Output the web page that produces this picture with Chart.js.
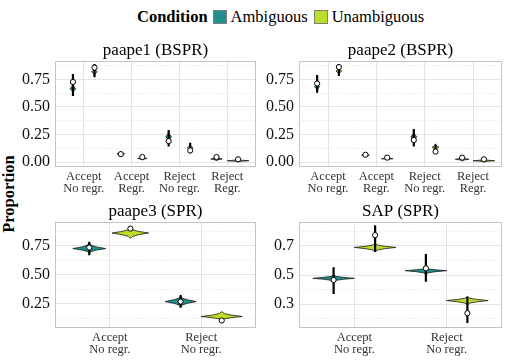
<!DOCTYPE html>
<html>
<head>
<meta charset="utf-8">
<script src="https://cdn.jsdelivr.net/npm/chart.js@4.4.0/dist/chart.umd.min.js"></script>
<style>
  html, body { margin: 0; padding: 0; background: #fff; }
  #wrap { position: relative; width: 510px; height: 360px; overflow: hidden;
          font-family: "Liberation Serif", "DejaVu Serif", serif; color: #000; }
  .panel { position: absolute; }
  #legend { position: absolute; left: 137px; top: 6px; height: 21px; display: flex;
            align-items: center; font-size: 16.5px; white-space: nowrap; }
  #legend b { margin-right: 5px; }
  #legend .key { width: 12px; height: 12px; border: 1px solid #7f7f7f; margin-right: 4px; }
  #legend .lab { margin-right: 6px; }
  #ylab { position: absolute; left: 9px; top: 194px; transform: translate(-50%, -50%) rotate(-90deg);
          font-weight: bold; font-size: 16.5px; white-space: nowrap; }
</style>
</head>
<body>
<div id="wrap">
  <div id="legend">
    <b>Condition</b>
    <span class="key" style="background:#21908C"></span><span class="lab">Ambiguous</span>
    <span class="key" style="background:#BBDF27"></span><span class="lab">Unambiguous</span>
  </div>
  <div id="ylab">Proportion</div>
  <canvas class="panel" id="p1" width="256" height="162" style="left:5px;top:37px"></canvas>
  <canvas class="panel" id="p2" width="258" height="162" style="left:249px;top:37px"></canvas>
  <canvas class="panel" id="p3" width="256" height="162" style="left:5px;top:198px"></canvas>
  <canvas class="panel" id="p4" width="258" height="162" style="left:249px;top:198px"></canvas>
</div>
<script>
// ─── Data ────────────────────────────────────────────────────────────────────

const GROUPS = ['Ambiguous', 'Unambiguous'];
const TOP_CATS = [['Accept', 'No regr.'], ['Accept', 'Regr.'], ['Reject', 'No regr.'], ['Reject', 'Regr.']];
const BOT_CATS = [['Accept', 'No regr.'], ['Reject', 'No regr.']];

const TOP_TICKS  = [0, 0.25, 0.5, 0.75];
const TOP_LABELS = ['0.00', '0.25', '0.50', '0.75'];
const TOP_MINOR  = [0.125, 0.375, 0.625, 0.875];
const P3_TICKS   = [0.25, 0.5, 0.75];
const P3_LABELS  = ['0.25', '0.50', '0.75'];
const P3_MINOR   = [0.125, 0.375, 0.625, 0.875];
const P4_TICKS   = [0.3, 0.5, 0.7];
const P4_LABELS  = ['0.3', '0.5', '0.7'];
const P4_MINOR   = [0.2, 0.4, 0.6, 0.8];

// violin: [low tip, peak, high tip]; width: max half-width (category units)
// mean + ci: white point with black range
const P1_AMB_VIOLIN = [[0.62, 0.665, 0.72], [0.055, 0.075, 0.095], [0.17, 0.23, 0.285], [0.01, 0.028, 0.05]];
const P1_AMB_WIDTH  = [0.06, 0.08, 0.06, 0.12];
const P1_AMB_MEAN   = [0.727, 0.072, 0.19, 0.045];
const P1_AMB_CI     = [[0.60, 0.80], [0.06, 0.09], [0.14, 0.29], [0.035, 0.06]];
const P1_UNA_VIOLIN = [[0.78, 0.82, 0.85], [0.02, 0.032, 0.045], [0.09, 0.13, 0.165], [0.0, 0.012, 0.025]];
const P1_UNA_WIDTH  = [0.06, 0.10, 0.06, 0.225];
const P1_UNA_MEAN   = [0.857, 0.045, 0.105, 0.025];
const P1_UNA_CI     = [[0.77, 0.89], [0.035, 0.055], [0.08, 0.175], [0.02, 0.03]];

const P2_AMB_VIOLIN = [[0.63, 0.685, 0.73], [0.045, 0.062, 0.08], [0.16, 0.23, 0.29], [0.01, 0.025, 0.045]];
const P2_AMB_WIDTH  = [0.05, 0.08, 0.06, 0.14];
const P2_AMB_MEAN   = [0.713, 0.066, 0.2, 0.04];
const P2_AMB_CI     = [[0.63, 0.79], [0.05, 0.085], [0.14, 0.30], [0.03, 0.05]];
const P2_UNA_VIOLIN = [[0.79, 0.825, 0.855], [0.02, 0.03, 0.042], [0.10, 0.135, 0.165], [0.0, 0.012, 0.025]];
const P2_UNA_WIDTH  = [0.06, 0.12, 0.07, 0.225];
const P2_UNA_MEAN   = [0.862, 0.04, 0.095, 0.025];
const P2_UNA_CI     = [[0.78, 0.89], [0.03, 0.05], [0.08, 0.16], [0.02, 0.03]];

const P3_AMB_VIOLIN = [[0.685, 0.727, 0.775], [0.222, 0.27, 0.319]];
const P3_AMB_WIDTH  = [0.18, 0.17];
const P3_AMB_MEAN   = [0.736, 0.27];
const P3_AMB_CI     = [[0.67, 0.785], [0.216, 0.327]];
const P3_UNA_VIOLIN = [[0.813, 0.861, 0.907], [0.107, 0.141, 0.184]];
const P3_UNA_WIDTH  = [0.20, 0.225];
const P3_UNA_MEAN   = [0.899, 0.107];
const P3_UNA_CI     = [[0.885, 0.91], [0.10, 0.115]];

const P4_AMB_VIOLIN = [[0.454, 0.477, 0.50], [0.505, 0.53, 0.55]];
const P4_AMB_WIDTH  = [0.225, 0.225];
const P4_AMB_MEAN   = [0.466, 0.546];
const P4_AMB_CI     = [[0.37, 0.553], [0.454, 0.644]];
const P4_UNA_VIOLIN = [[0.66, 0.69, 0.717], [0.295, 0.324, 0.351]];
const P4_UNA_WIDTH  = [0.225, 0.225];
const P4_UNA_MEAN   = [0.774, 0.237];
const P4_UNA_CI     = [[0.66, 0.842], [0.169, 0.351]];

// violin outline profile: relative height -> relative half-width
const SHAPE_T = [-1, -0.6, -0.3, 0, 0.3, 0.6, 1];
const SHAPE_W = [0, 0.12, 0.45, 1, 0.45, 0.12, 0];

// ─── Style ───────────────────────────────────────────────────────────────────

const FONT  = "'Liberation Serif', 'DejaVu Serif', serif";
const COLORS = ['#21908C', '#BBDF27'];
const GRID  = '#e3e3e3';
const FRAME = '#c4c4c4';
const DODGE = 0.225;

// ─── Helpers ─────────────────────────────────────────────────────────────────

function violinOutline(xc, v, w) {
  const right = SHAPE_T.map((t, k) => ({
    x: xc + w * SHAPE_W[k],
    y: t < 0 ? v[1] + t * (v[1] - v[0]) : v[1] + t * (v[2] - v[1])
  }));
  const left = right.slice().reverse().map(p => ({ x: 2 * xc - p.x, y: p.y }));
  return right.concat(left);
}

function groupSets(violins, widths, means, cis, offset, color) {
  const sets = [];
  violins.forEach((v, i) => {
    sets.push({
      data: violinOutline(i + 1 + offset, v, widths[i]),
      showLine: true, fill: 'shape',
      backgroundColor: color, borderColor: '#1a1a1a', borderWidth: 0.8,
      pointRadius: 0, order: 3
    });
  });
  const bars = [];
  cis.forEach((c, i) => {
    const x = i + 1 + offset;
    bars.push({ x, y: c[0] }, { x, y: c[1] }, { x, y: null });
  });
  sets.push({ data: bars, showLine: true, spanGaps: false, borderColor: '#000',
              borderWidth: 2.2, pointRadius: 0, order: 2 });
  sets.push({ data: means.map((m, i) => ({ x: i + 1 + offset, y: m })), showLine: false,
              pointRadius: 2.6, pointBackgroundColor: '#fff', pointBorderColor: '#000',
              pointBorderWidth: 1, order: 1 });
  return sets;
}

const framePlugin = {
  id: 'frame',
  beforeDatasetsDraw(chart) {
    const a = chart.chartArea, ctx = chart.ctx;
    ctx.save();
    ctx.strokeStyle = FRAME;
    ctx.lineWidth = 1;
    ctx.strokeRect(a.left + 0.5, a.top + 0.5, a.right - a.left - 1, a.bottom - a.top - 1);
    ctx.restore();
  }
};

// ─── Panels ──────────────────────────────────────────────────────────────────

const PANELS = [
  { id: 'p1', title: 'paape1 (BSPR)', cats: TOP_CATS, yMin: -0.045, yMax: 0.917,
    ticks: TOP_TICKS, labels: TOP_LABELS, minor: TOP_MINOR,
    amb: [P1_AMB_VIOLIN, P1_AMB_WIDTH, P1_AMB_MEAN, P1_AMB_CI],
    una: [P1_UNA_VIOLIN, P1_UNA_WIDTH, P1_UNA_MEAN, P1_UNA_CI] },
  { id: 'p2', title: 'paape2 (BSPR)', cats: TOP_CATS, yMin: -0.045, yMax: 0.917,
    ticks: TOP_TICKS, labels: TOP_LABELS, minor: TOP_MINOR,
    amb: [P2_AMB_VIOLIN, P2_AMB_WIDTH, P2_AMB_MEAN, P2_AMB_CI],
    una: [P2_UNA_VIOLIN, P2_UNA_WIDTH, P2_UNA_MEAN, P2_UNA_CI] },
  { id: 'p3', title: 'paape3 (SPR)', cats: BOT_CATS, yMin: 0.042, yMax: 0.956,
    ticks: P3_TICKS, labels: P3_LABELS, minor: P3_MINOR,
    amb: [P3_AMB_VIOLIN, P3_AMB_WIDTH, P3_AMB_MEAN, P3_AMB_CI],
    una: [P3_UNA_VIOLIN, P3_UNA_WIDTH, P3_UNA_MEAN, P3_UNA_CI] },
  { id: 'p4', title: 'SAP (SPR)', cats: BOT_CATS, yMin: 0.135, yMax: 0.865,
    ticks: P4_TICKS, labels: P4_LABELS, minor: P4_MINOR,
    amb: [P4_AMB_VIOLIN, P4_AMB_WIDTH, P4_AMB_MEAN, P4_AMB_CI],
    una: [P4_UNA_VIOLIN, P4_UNA_WIDTH, P4_UNA_MEAN, P4_UNA_CI] }
];

PANELS.forEach(p => {
  const datasets = groupSets(...p.amb, -DODGE, COLORS[0])
    .concat(groupSets(...p.una, DODGE, COLORS[1]));
  const isMinor = v => p.minor.includes(v);

  new Chart(document.getElementById(p.id), {
    type: 'scatter',
    data: { datasets },
    options: {
      responsive: false,
      animation: false,
      events: [],
      layout: { padding: { left: 0, right: 2, top: 0, bottom: 0 } },
      plugins: {
        legend: { display: false },
        tooltip: { enabled: false },
        title: {
          display: true, text: p.title, color: '#000', fullSize: false,
          font: { family: FONT, size: 17, weight: 'normal', lineHeight: 1 },
          padding: { top: 5, bottom: 2 }
        }
      },
      scales: {
        x: {
          type: 'linear', min: 0.4, max: p.cats.length + 0.6,
          afterBuildTicks: ax => { ax.ticks = p.cats.map((c, i) => ({ value: i + 1 })); },
          afterFit: ax => { ax.height = 32; },
          grid: { color: GRID, lineWidth: 1, drawTicks: false },
          border: { display: false },
          ticks: {
            autoSkip: false, maxRotation: 0, padding: 4, color: '#333',
            font: { family: FONT, size: 12.5, lineHeight: 0.92 },
            callback: v => p.cats[Math.round(v) - 1]
          }
        },
        y: {
          type: 'linear', min: p.yMin, max: p.yMax,
          afterBuildTicks: ax => {
            ax.ticks = p.ticks.concat(p.minor).sort((a, b) => a - b).map(v => ({ value: v }));
          },
          afterFit: ax => { ax.width = 50; },
          grid: {
            color: GRID, drawTicks: false,
            lineWidth: ctx => (ctx.tick && isMinor(ctx.tick.value) ? 0.8 : 1)
          },
          border: {
            display: false,
            dash: ctx => (ctx.tick && isMinor(ctx.tick.value) ? [1.5, 2] : [])
          },
          ticks: {
            autoSkip: false, padding: 5, color: '#111',
            font: { family: FONT, size: 16 },
            callback: v => { const i = p.ticks.indexOf(v); return i < 0 ? '' : p.labels[i]; }
          }
        }
      }
    },
    plugins: [framePlugin]
  });
});
</script>
</body>
</html>
